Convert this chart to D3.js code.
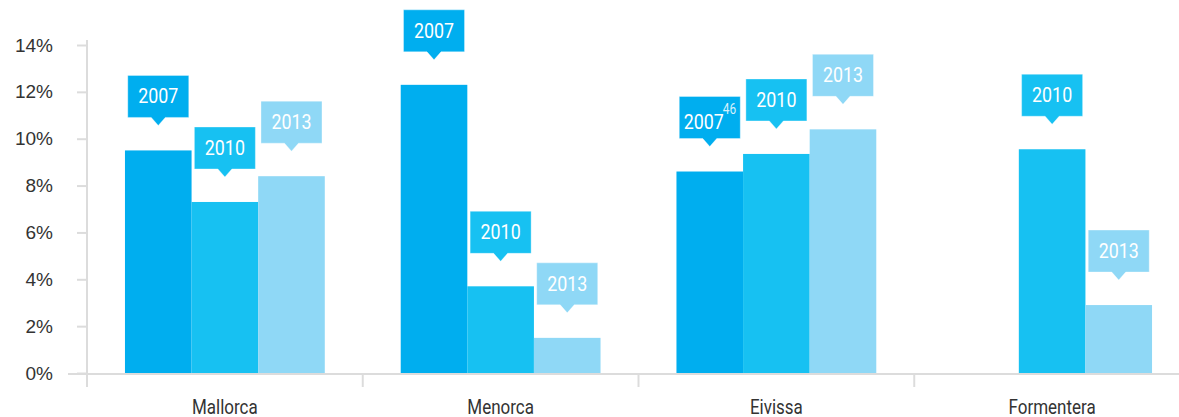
<!DOCTYPE html>
<meta charset="utf-8">
<style>
body { margin: 0; background: #fff; }
.y.axis text { font: 19px "Liberation Sans", Arial, sans-serif; fill: #333; }
.axis line, .axis path { stroke: #dcdcdc; stroke-width: 2; }
.xlabel { font: 20px Roboto, sans-serif; fill: #333; text-anchor: middle; }
.callout text { font: 21px Roboto, sans-serif; fill: #fff; text-anchor: middle; }
.callout .note { font-size: 14px; fill: #d6f1fc; text-anchor: start; }
</style>
<body>
<script src="https://cdn.jsdelivr.net/npm/d3@7"></script>
<script>

    // islands and survey years
    var categories = ["Mallorca", "Menorca", "Eivissa", "Formentera"];
    var years = ["2007", "2010", "2013"];

    // share in %, null = no bar
    var values2007 = [9.5, 12.3, 8.6, null];
    var values2010 = [7.3, 3.7, 9.35, 9.55];
    var values2013 = [8.4, 1.5, 10.4, 2.9];

    // footnote marks shown next to a year label
    var notes2007 = [null, null, "46", null];

    var yTicks = [0, 2, 4, 6, 8, 10, 12, 14];
    var colors = ["#00aeef", "#17c1f2", "#8fd8f6"];

    var W = 1179, H = 417;
    var squeeze = 0.85; // condensed look for the labels

    var series = [values2007, values2010, values2013];
    var notes = [notes2007, [null, null, null, null], [null, null, null, null]];

    var rows = [];
    categories.forEach(function (c, i) {
        years.forEach(function (yr, j) {
            if (series[j][i] != null) {
                rows.push({cat: c, year: yr, idx: j, value: series[j][i], note: notes[j][i]});
            }
        });
    });

    var svg = d3.select("body").append("svg").attr("width", W).attr("height", H);

    var x0 = d3.scaleBand().domain(categories).range([87, 1190]).padding(0);
    var x1 = d3.scaleBand().domain(years).range([0, x0.bandwidth()]).paddingInner(0).paddingOuter(0.57);
    var y = d3.scaleLinear().domain([0, 14]).range([373, 45]);

    // y axis
    var yAxis = d3.axisLeft(y).tickValues(yTicks).tickSize(10).tickPadding(24)
        .tickFormat(function (d) { return d + "%"; });
    var gy = svg.append("g").attr("class", "y axis").attr("transform", "translate(87,0)").call(yAxis);
    gy.select(".domain").remove();
    gy.append("line").attr("x1", 0).attr("x2", 0).attr("y1", y(14) - 5).attr("y2", y(0) + 14);

    // x axis
    var gx = svg.append("g").attr("class", "x axis");
    gx.append("line").attr("x1", 68).attr("x2", W).attr("y1", y(0) + 1).attr("y2", y(0) + 1);
    gx.selectAll("line.tick").data(categories.slice(1)).enter().append("line")
        .attr("class", "tick")
        .attr("x1", function (d) { return x0(d); }).attr("x2", function (d) { return x0(d); })
        .attr("y1", y(0)).attr("y2", y(0) + 14);
    gx.selectAll("text").data(categories).enter().append("text")
        .attr("class", "xlabel")
        .attr("transform", function (d) {
            return "translate(" + (x0(d) + x0.bandwidth() / 2) + ",414) scale(" + squeeze + ",1)";
        })
        .text(function (d) { return d; });

    // bars
    svg.append("g").selectAll("rect").data(rows).enter().append("rect")
        .attr("x", function (d) { return x0(d.cat) + x1(d.year); })
        .attr("y", function (d) { return y(d.value); })
        .attr("width", x1.bandwidth())
        .attr("height", function (d) { return y(0) - y(d.value); })
        .style("fill", function (d) { return colors[d.idx]; });

    // callouts: box + pointer above each bar
    var bw = 61, bh = 42, ph = 8, pw = 7, gap = 25;
    var co = svg.append("g").selectAll("g").data(rows).enter().append("g")
        .attr("class", "callout")
        .attr("transform", function (d) {
            var cx = x0(d.cat) + x1(d.year) + x1.bandwidth() / 2;
            return "translate(" + cx + "," + (y(d.value) - gap) + ")";
        });
    co.append("path")
        .attr("d", "M" + (-bw / 2) + "," + (-ph - bh) + "H" + (bw / 2) + "V" + (-ph) +
            "H" + pw + "L0,0L" + (-pw) + "," + (-ph) + "H" + (-bw / 2) + "Z")
        .style("fill", function (d) { return colors[d.idx]; })
        .style("stroke", "rgba(255,255,255,0.35)")
        .style("stroke-width", 1);
    co.append("text")
        .attr("transform", function (d) {
            return d.note ? "translate(-6," + (-ph - 10) + ") scale(" + squeeze + ",1)"
                          : "translate(0," + (-ph - 14) + ") scale(" + squeeze + ",1)";
        })
        .text(function (d) { return d.year; });
    co.filter(function (d) { return d.note; }).append("text")
        .attr("class", "note")
        .attr("transform", "translate(13," + (-ph - 25) + ") scale(" + squeeze + ",1)")
        .text(function (d) { return d.note; });

</script>
</body>
